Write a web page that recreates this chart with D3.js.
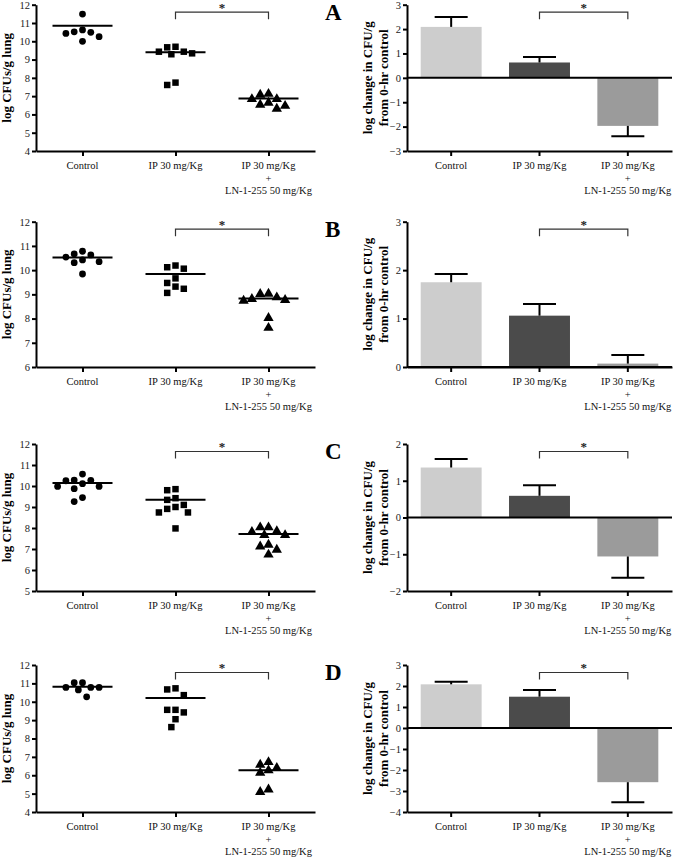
<!DOCTYPE html>
<html>
<head>
<meta charset="utf-8">
<script src="https://cdn.jsdelivr.net/npm/d3@7/dist/d3.min.js"></script>
<style>
  html, body { margin: 0; padding: 0; background: #fff; }
  svg { display: block; }
  text { font-family: "Liberation Serif", "Times New Roman", serif; }
</style>
</head>
<body>
<svg id="chart" width="674" height="858"></svg>
<script>
// ---------------- DATA ----------------
const categories = ["Control", "IP 30 mg/Kg", "IP 30 mg/Kg|+|LN-1-255 50 mg/Kg"];
const panelLetters = ["A", "B", "C", "D"];

// Left: individual log CFU/g lung values and group means
const A_ctrl = [11.49, 10.52, 10.43, 10.49, 10.62, 10.00, 10.25];
const A_ip   = [9.67, 9.43, 9.34, 9.29, 9.43, 9.70, 7.61, 7.74];
const A_combo= [7.17, 6.88, 6.88, 7.12, 6.57, 6.35, 6.51, 6.68];
const A_means= [10.85, 9.40, 6.87];

const B_ctrl = [10.54, 10.35, 10.67, 10.31, 10.78, 10.42, 10.63, 9.84];
const B_ip   = [10.19, 10.06, 10.12, 9.66, 9.47, 9.32, 9.23, 9.06];
const B_combo= [9.05, 8.84, 8.77, 8.80, 8.91, 9.06, 8.06, 7.65];
const B_means= [10.52, 9.84, 8.83];

const C_ctrl = [10.27, 10.11, 10.28, 9.98, 10.57, 9.87, 9.98, 10.25, 9.45, 9.26];
const C_ip   = [9.85, 9.80, 9.34, 9.42, 9.00, 8.74, 8.74, 8.91, 9.10, 7.98];
const C_combo= [8.07, 7.85, 7.70, 7.70, 7.88, 8.07, 7.16, 7.24, 7.00, 6.77];
const C_means= [10.14, 9.34, 7.72];

const D_ctrl = [11.04, 10.78, 10.78, 10.64, 10.78, 11.04, 10.27];
const D_ip   = [10.73, 10.36, 10.67, 9.56, 9.42, 9.56, 9.05, 8.62];
const D_combo= [6.62, 6.76, 6.31, 6.18, 6.44, 5.13, 5.27];
const D_means= [10.82, 10.20, 6.27];

const leftDomains = [[4, 12], [6, 12], [5, 12], [4, 12]];

// Right: log change in CFU/g from 0-hr control (mean, SEM)
const A_change = [2.09, 0.63, -1.97];
const A_sem    = [0.41, 0.22, 0.42];
const B_change = [1.75, 1.06, 0.07];
const B_sem    = [0.17, 0.24, 0.18];
const C_change = [1.36, 0.59, -1.06];
const C_sem    = [0.23, 0.29, 0.58];
const D_change = [2.08, 1.49, -2.58];
const D_sem    = [0.12, 0.32, 0.95];

const rightDomains = [[-3, 3], [0, 3], [-2, 2], [-4, 3]];

const leftYTitle = "log CFUs/g lung";
const rightYTitle = ["log change in CFU/g", "from 0-hr control"];
const sigLabel = "*";

// ---------------- LAYOUT ----------------
const panelTop    = [4.7, 221.7, 444, 665];
const panelBottom = [151, 367, 591, 812];
const leftX  = [36, 315];
const rightX = [407, 672];
const barColors = ["#cdcdcd", "#4b4b4b", "#9b9b9b"];
const symbols = [d3.symbolCircle, d3.symbolSquare, d3.symbolTriangle];
const symbolSizes = [36, 42, 46];

const svg = d3.select("#chart");

const leftData = [
  [A_ctrl, A_ip, A_combo], [B_ctrl, B_ip, B_combo],
  [C_ctrl, C_ip, C_combo], [D_ctrl, D_ip, D_combo]
];
const leftMeans = [A_means, B_means, C_means, D_means];
const rightData = [A_change, B_change, C_change, D_change];
const rightSem = [A_sem, B_sem, C_sem, D_sem];

function beeswarm(values, y, step, minDist) {
  // greedy placement; values processed in descending order
  const idx = values.map((v, i) => i).sort((a, b) => values[b] - values[a]);
  const placed = [];
  const offs = new Array(values.length).fill(0);
  idx.forEach(i => {
    const py = y(values[i]);
    for (let k = 0; k < 40; k++) {
      const m = Math.ceil(k / 2) * (k % 2 === 1 ? -1 : 1);
      const dx = m * step;
      const ok = placed.every(p => Math.hypot(p.x - dx, p.y - py) >= minDist);
      if (ok) { offs[i] = dx; placed.push({x: dx, y: py}); break; }
    }
  });
  return offs;
}

function categoryLabels(g, x, yBase) {
  categories.forEach((c, i) => {
    const lines = c.split("|");
    const t = g.append("text")
      .attr("text-anchor", "middle")
      .attr("font-size", 10.5)
      .attr("fill", "#111");
    lines.forEach((ln, j) => {
      t.append("tspan").attr("x", x(c)).attr("y", yBase + j * 12.5).text(ln);
    });
  });
}

function styleAxis(g) {
  g.selectAll("path.domain").attr("stroke", "#000").attr("stroke-width", 2);
  g.selectAll(".tick line").attr("stroke", "#000").attr("stroke-width", 2);
  g.selectAll(".tick text")
    .attr("font-family", "Liberation Serif, serif")
    .attr("font-size", 10.5).attr("fill", "#222");
}

function bracket(g, x, yTop) {
  const yb = yTop + 7.5;
  const x1 = x(categories[1]) + (x.bandwidth ? x.bandwidth() / 2 : 0);
  const x2 = x(categories[2]) + (x.bandwidth ? x.bandwidth() / 2 : 0);
  g.append("path")
    .attr("d", `M${x1},${yb + 7}V${yb}H${x2}V${yb + 7}`)
    .attr("fill", "none").attr("stroke", "#333").attr("stroke-width", 1.2);
  g.append("text").attr("x", (x1 + x2) / 2).attr("y", yb - 0.5)
    .attr("text-anchor", "middle").attr("font-size", 13).attr("font-weight", "bold")
    .attr("fill", "#222").text(sigLabel);
}

for (let p = 0; p < 4; p++) {
  const top = panelTop[p], bottom = panelBottom[p];

  // ---------- LEFT scatter panel ----------
  const gl = svg.append("g");
  const xl = d3.scalePoint().domain(categories).range(leftX).padding(0.5);
  const yl = d3.scaleLinear().domain(leftDomains[p]).range([bottom, top]);

  const yAxL = gl.append("g").attr("transform", `translate(${leftX[0]},0)`)
    .call(d3.axisLeft(yl).tickValues(d3.range(leftDomains[p][0], leftDomains[p][1] + 1))
      .tickSize(4).tickPadding(2).tickSizeOuter(0).tickFormat(d3.format("d")));
  styleAxis(yAxL);
  const xAxL = gl.append("g").attr("transform", `translate(0,${bottom})`)
    .call(d3.axisBottom(xl).tickSize(5).tickSizeOuter(0).tickFormat(""));
  styleAxis(xAxL);
  categoryLabels(gl, xl, bottom + 18);

  gl.append("text")
    .attr("transform", `translate(11,${(top + bottom) / 2}) rotate(-90)`)
    .attr("text-anchor", "middle").attr("font-size", 13).attr("font-weight", "bold")
    .text(leftYTitle);

  leftData[p].forEach((vals, gi) => {
    const cx = xl(categories[gi]);
    const offs = beeswarm(vals, yl, 4.15, 8);
    gl.selectAll(null).data(vals).enter().append("path")
      .attr("d", d3.symbol().type(symbols[gi]).size(symbolSizes[gi]))
      .attr("transform", (d, i) => `translate(${cx + offs[i]},${yl(d) + (gi === 2 ? 0.8 : 0)})`)
      .attr("fill", "#000");
    gl.append("line")
      .attr("x1", cx - 30).attr("x2", cx + 30)
      .attr("y1", yl(leftMeans[p][gi])).attr("y2", yl(leftMeans[p][gi]))
      .attr("stroke", "#000").attr("stroke-width", 2);
  });
  bracket(gl, xl, top);

  // ---------- RIGHT bar panel ----------
  const gr = svg.append("g");
  const xr = d3.scaleBand().domain(categories).range(rightX).paddingInner(0.31).paddingOuter(0.155);
  const yr = d3.scaleLinear().domain(rightDomains[p]).range([bottom, top]);

  gr.selectAll(null).data(rightData[p]).enter().append("rect")
    .attr("x", (d, i) => xr(categories[i]))
    .attr("width", xr.bandwidth())
    .attr("y", d => Math.min(yr(d), yr(0)))
    .attr("height", d => Math.abs(yr(d) - yr(0)))
    .attr("fill", (d, i) => barColors[i]);

  rightData[p].forEach((v, i) => {
    const cx = xr(categories[i]) + xr.bandwidth() / 2;
    const end = v + (v >= 0 ? 1 : -1) * rightSem[p][i];
    gr.append("line").attr("x1", cx).attr("x2", cx)
      .attr("y1", yr(v)).attr("y2", yr(end))
      .attr("stroke", "#000").attr("stroke-width", 2);
    gr.append("line").attr("x1", cx - 16.5).attr("x2", cx + 16.5)
      .attr("y1", yr(end)).attr("y2", yr(end))
      .attr("stroke", "#000").attr("stroke-width", 2);
  });

  const yAxR = gr.append("g").attr("transform", `translate(${rightX[0]},0)`)
    .call(d3.axisLeft(yr).tickValues(d3.range(rightDomains[p][0], rightDomains[p][1] + 1))
      .tickSize(4).tickPadding(2).tickSizeOuter(0).tickFormat(d3.format("d")));
  styleAxis(yAxR);
  const xAxR = gr.append("g").attr("transform", `translate(0,${bottom})`)
    .call(d3.axisBottom(xr).tickSize(5).tickSizeOuter(0).tickFormat(""));
  styleAxis(xAxR);
  // zero line
  gr.append("line").attr("x1", rightX[0]).attr("x2", rightX[1])
    .attr("y1", yr(0)).attr("y2", yr(0))
    .attr("stroke", "#000").attr("stroke-width", 2);

  categoryLabels(gr, d => xr(d) + xr.bandwidth() / 2, bottom + 18);

  const tr = gr.append("text")
    .attr("transform", `translate(372,${(top + bottom) / 2}) rotate(-90)`)
    .attr("text-anchor", "middle").attr("font-size", 13).attr("font-weight", "bold");
  rightYTitle.forEach((ln, j) => {
    tr.append("tspan").attr("x", 0).attr("dy", j === 0 ? 0 : 15.5).text(ln);
  });

  bracket(gr, xr, top);

  // panel letter
  svg.append("text").attr("x", 325).attr("y", top + 15)
    .attr("font-size", 23).attr("font-weight", "bold").text(panelLetters[p]);
}
</script>
</body>
</html>
